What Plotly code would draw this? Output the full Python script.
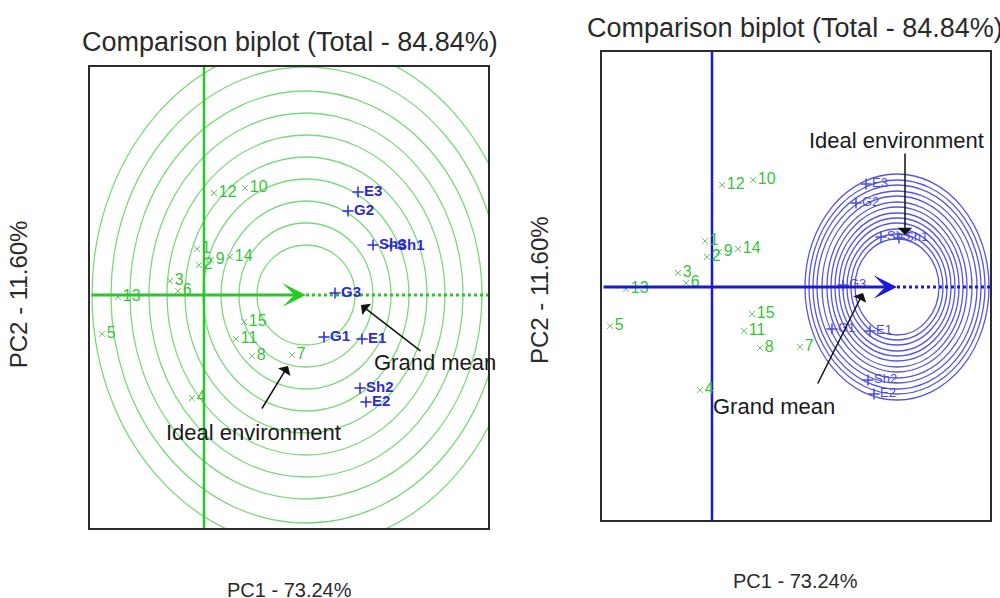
import plotly.graph_objects as go

# ---------------- data (PC1, PC2 scores) ----------------
genotypes = ["1", "2", "3", "4", "5", "6", "7", "8", "9", "10", "11", "12", "13", "14", "15"]
geno_pc1 = [-0.35, -0.25, -1.70, -0.60, -5.10, -1.30, 4.40, 2.40, 0.35, 2.05, 1.60, 0.50, -4.30, 1.30, 2.00]
geno_pc2 = [2.30, 1.50, 0.70, -5.15, -1.95, 0.20, -3.00, -3.05, 1.75, 5.35, -2.20, 5.10, -0.10, 1.90, -1.35]

environments = ["E1", "E2", "E3", "G1", "G2", "G3", "Sh1", "Sh2", "Sh3"]
env_pc1 = [7.90, 8.10, 7.70, 6.00, 7.20, 6.55, 9.35, 7.80, 8.45]
env_pc2 = [-2.20, -5.35, 5.15, -2.10, 4.20, 0.10, 2.45, -4.65, 2.50]

# ideal-point (ring centre) of each panel
left_centre = (5.1, 0.0)
right_centre = (9.25, 0.0)
# concentric ring half-widths / half-heights (PC units)
left_ring_rx = [2.45, 3.35, 4.25, 5.15, 6.05, 6.95, 7.85, 8.80, 9.75, 10.70]
left_ring_ry = [2.50, 3.60, 4.70, 5.80, 6.90, 8.00, 9.10, 10.20, 11.40, 12.60]
right_ring_rx = [2.10, 2.30, 2.50, 2.70, 2.90, 3.10, 3.30, 3.50, 3.75, 4.00, 4.20, 4.40, 4.60]
right_ring_ry = [2.40, 2.65, 2.90, 3.20, 3.45, 3.70, 4.00, 4.25, 4.55, 4.80, 5.10, 5.35, 5.65]

title_text = "Comparison biplot (Total - 84.84%)"
x_title = "PC1 - 73.24%"
y_title = "PC2 - 11.60%"

# ---------------- styling ----------------
FONT = "Liberation Sans, Arial, sans-serif"
G_TXT = "rgb(55,195,55)"
G_MARK = "rgb(105,205,105)"
B_TXT = "rgb(45,45,205)"
LEFT_RING = "rgb(125,215,125)"
LEFT_AXIS = "rgb(40,200,40)"
RIGHT_RING = "rgb(85,85,225)"
RIGHT_AXIS = "rgb(25,25,215)"

L_XR = [-5.7, 14.2]
L_YR = [-11.65, 11.4]
R_XR = [-5.5, 13.9]
R_YR = [-11.65, 11.75]

fig = go.Figure()

def add_panel(xa, ya, xr, yr, axis_col, centre, env_font_size, env_col, env_weight):
    # biplot axes: vertical (PC2) and horizontal (AEC) lines
    fig.add_trace(go.Scatter(x=[0, 0], y=yr, mode="lines", line=dict(color=axis_col, width=2.5),
                             xaxis=xa, yaxis=ya, hoverinfo="skip", showlegend=False))
    fig.add_trace(go.Scatter(x=[centre[0], xr[1]], y=[0, 0], mode="lines",
                             line=dict(color=axis_col, width=3, dash="dot"),
                             xaxis=xa, yaxis=ya, hoverinfo="skip", showlegend=False))
    # genotypes
    fig.add_trace(go.Scatter(x=geno_pc1, y=geno_pc2, mode="markers+text", text=genotypes,
                             textposition="middle right",
                             textfont=dict(family=FONT, size=16, color=G_TXT),
                             marker=dict(symbol="x-thin", size=6, line=dict(color=G_MARK, width=1)),
                             xaxis=xa, yaxis=ya, showlegend=False))
    # environments
    fig.add_trace(go.Scatter(x=env_pc1, y=env_pc2, mode="markers+text", text=environments,
                             textposition="middle right",
                             textfont=dict(family=FONT, size=env_font_size, color=env_col, weight=env_weight),
                             marker=dict(symbol="cross-thin", size=8, line=dict(color=env_col, width=1.5)),
                             xaxis=xa, yaxis=ya, showlegend=False))

add_panel("x", "y", L_XR, L_YR, LEFT_AXIS, left_centre, 15, B_TXT, "bold")
add_panel("x2", "y2", R_XR, R_YR, RIGHT_AXIS, right_centre, 13, "rgb(75,75,225)", "normal")

shapes = []
for rx, ry in zip(left_ring_rx, left_ring_ry):
    shapes.append(dict(type="circle", xref="x", yref="y", layer="below",
                       x0=left_centre[0] - rx, x1=left_centre[0] + rx,
                       y0=left_centre[1] - ry, y1=left_centre[1] + ry,
                       line=dict(color=LEFT_RING, width=1.3)))
for rx, ry in zip(right_ring_rx, right_ring_ry):
    shapes.append(dict(type="circle", xref="x2", yref="y2", layer="below",
                       x0=right_centre[0] - rx, x1=right_centre[0] + rx,
                       y0=right_centre[1] - ry, y1=right_centre[1] + ry,
                       line=dict(color=RIGHT_RING, width=1.3)))

annotations = []
# AEC arrows (solid part ending in arrowhead)
annotations.append(dict(x=left_centre[0], y=0, ax=L_XR[0], ay=0, xref="x", yref="y", axref="x", ayref="y",
                        text="", showarrow=True, arrowhead=3, arrowsize=1.3, arrowwidth=3, arrowcolor=LEFT_AXIS))
annotations.append(dict(x=right_centre[0], y=0, ax=R_XR[0], ay=0, xref="x2", yref="y2", axref="x2", ayref="y2",
                        text="", showarrow=True, arrowhead=3, arrowsize=1.3, arrowwidth=3, arrowcolor=RIGHT_AXIS))

# text callouts
def callout(xref, yref, tx, ty, text, tipx, tipy, tailx, taily):
    annotations.append(dict(x=tipx, y=tipy, ax=tailx, ay=taily, xref=xref, yref=yref,
                            axref=xref, ayref=yref, text="", showarrow=True, arrowhead=1,
                            arrowsize=1.6, arrowwidth=1.5, arrowcolor="#111"))
    annotations.append(dict(x=tx, y=ty, xref=xref, yref=yref, text=text, showarrow=False,
                            font=dict(family=FONT, size=22, color="#1a1a1a")))

callout("x", "y", 11.55, -3.35, "Grand mean", 7.85, -0.5, 10.9, -2.85)
callout("x", "y", 2.45, -6.85, "Ideal environment", 4.2, -3.55, 2.85, -5.75)
callout("x2", "y2", 9.2, 7.35, "Ideal environment", 9.65, 2.6, 9.65, 6.75)
callout("x2", "y2", 3.1, -5.95, "Grand mean", 7.55, -0.3, 5.25, -4.9)

# titles and axis titles
for cx, cy in [(0.290, 0.930), (0.795, 0.953)]:
    annotations.append(dict(x=cx, y=cy, xref="paper", yref="paper", text=title_text, showarrow=False,
                            font=dict(family=FONT, size=27, color="#2a2a2a"), xanchor="center", yanchor="middle"))
for cx, cy in [(0.289, 0.013), (0.795, 0.028)]:
    annotations.append(dict(x=cx, y=cy, xref="paper", yref="paper", text=x_title, showarrow=False,
                            font=dict(family=FONT, size=20, color="#2a2a2a"), xanchor="center", yanchor="middle"))
for cx, cy in [(0.018, 0.508), (0.539, 0.515)]:
    annotations.append(dict(x=cx, y=cy, xref="paper", yref="paper", text=y_title, showarrow=False, textangle=-90,
                            font=dict(family=FONT, size=24, color="#2a2a2a"), xanchor="center", yanchor="middle"))

ax_common = dict(showgrid=False, zeroline=False, showticklabels=False, ticks="",
                 showline=True, mirror=True, linecolor="#2b2b2b", linewidth=2)

fig.update_layout(
    width=1000, height=598,
    margin=dict(l=0, r=0, t=0, b=0),
    paper_bgcolor="white", plot_bgcolor="white",
    showlegend=False,
    shapes=shapes,
    annotations=annotations,
    xaxis=dict(domain=[0.090, 0.488], range=L_XR, **ax_common),
    yaxis=dict(domain=[(598 - 528) / 598, (598 - 67) / 598], range=L_YR, **ax_common),
    xaxis2=dict(domain=[0.602, 0.990], range=R_XR, anchor="y2", **ax_common),
    yaxis2=dict(domain=[(598 - 520) / 598, (598 - 52) / 598], range=R_YR, anchor="x2", **ax_common),
)

fig.write_html("out.html", config={"displayModeBar": False},
               post_script="document.body.style.margin='0px';document.body.style.padding='0px';")
